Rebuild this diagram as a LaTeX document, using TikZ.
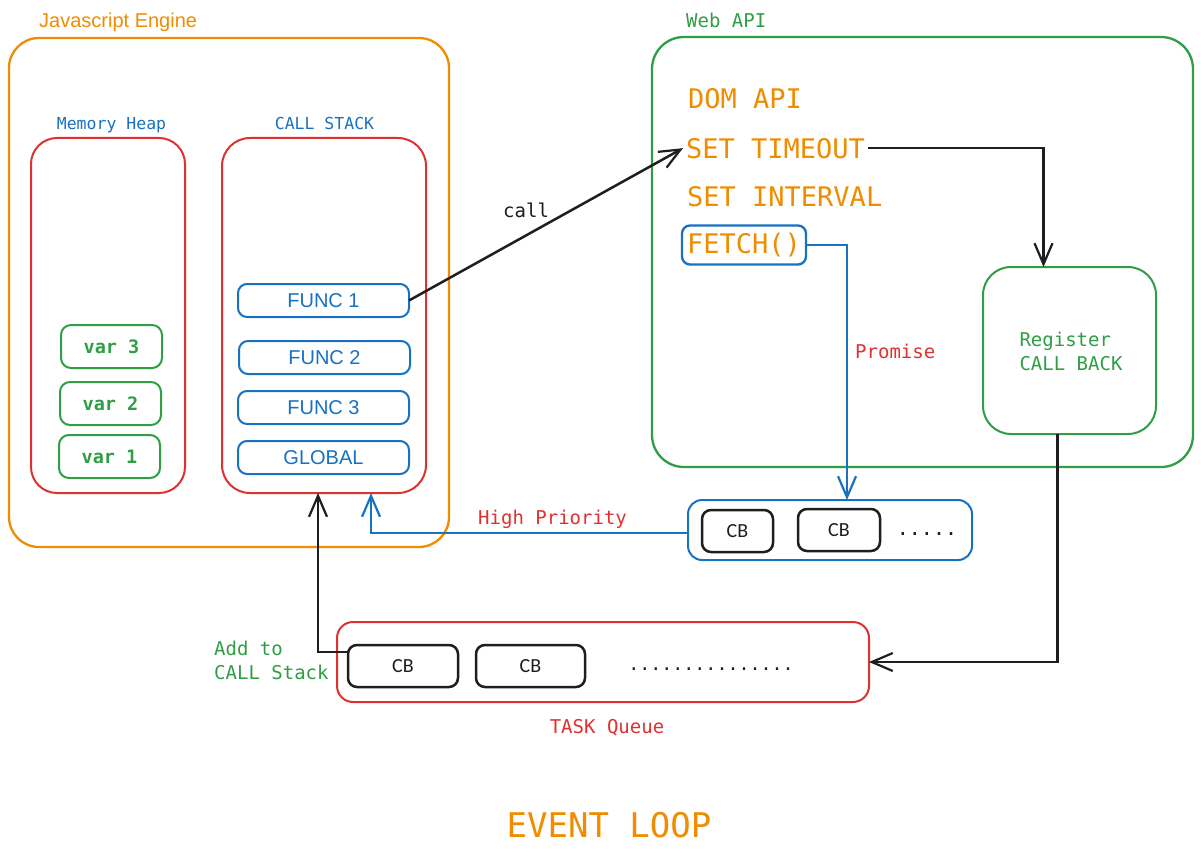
\documentclass[tikz,border=0pt]{standalone}
\usepackage{fontspec}
\setmainfont{Liberation Sans}
\newfontfamily\monof{DejaVu Sans Mono}
\newfontfamily\cbfont{Carlito}
\usetikzlibrary{arrows.meta,calc}
\definecolor{xorange}{HTML}{F08C00}
\definecolor{xred}{HTML}{E03131}
\definecolor{xblue}{HTML}{1971C2}
\definecolor{xgreen}{HTML}{2F9E44}
\definecolor{xblack}{HTML}{1E1E1E}
\begin{document}
\begin{tikzpicture}[x=1pt,y=-1pt,
  box/.style={draw, line width=2pt, rounded corners=#1, anchor=north west, inner sep=0pt, outer sep=0pt},
  arr/.style={line width=2.5pt, -{Straight Barb[length=21pt,width=18pt,line width=2.2pt]}},
  lbl/.style={inner sep=0pt, anchor=base west, font=\monof\fontsize{19}{24}\selectfont},
  web/.style={inner sep=0pt, anchor=base west, text=xorange, font=\monof\fontsize{27}{32}\selectfont},
  func/.style={box=9pt, draw=xblue, text=xblue, minimum width=171pt, minimum height=33pt, font=\fontsize{20}{24}\selectfont},
  varbox/.style={box=10pt, draw=xgreen, text=xgreen, minimum width=101pt, minimum height=43pt, font=\monof\bfseries\fontsize{18.5}{22}\selectfont},
  cbbox/.style={box=9pt, draw=xblack, line width=2.5pt, text=xblack, minimum height=42pt, font=\cbfont\fontsize{20}{24}\selectfont},
]
\useasboundingbox (0,0) rectangle (1202,856);
\fill[white] (0,0) rectangle (1202,856);

% Javascript engine
\node[box=30pt, draw=xorange, line width=2.3pt, minimum width=440pt, minimum height=509pt] (js) at (9,38) {};
\node[inner sep=0pt, anchor=base west, text=xorange, font=\fontsize{20}{24}\selectfont] (jslbl) at (39,28) {Javascript Engine};

% Memory heap
\node[inner sep=0pt, anchor=base, text=xblue, font=\monof\fontsize{16.5}{20}\selectfont] (heaplbl) at (111.5,130) {Memory Heap};
\node[box=26pt, draw=xred, minimum width=154pt, minimum height=355pt] (heap) at (31,138) {};
\node[varbox] (v3) at (61,325) {var 3};
\node[varbox] (v2) at (60,382) {var 2};
\node[varbox] (v1) at (59,435) {var 1};

% Call stack
\node[inner sep=0pt, anchor=base, text=xblue, font=\monof\fontsize{16.5}{20}\selectfont] (cslbl) at (324.5,130) {CALL STACK};
\node[box=28pt, draw=xred, minimum width=204pt, minimum height=355pt] (cs) at (222,138) {};
\node[func] (f1) at (238,284) {FUNC 1};
\node[func] (f2) at (239,341) {FUNC 2};
\node[func] (f3) at (238,391) {FUNC 3};
\node[func] (glob) at (238,441) {GLOBAL};

% Web API
\node[box=32pt, draw=xgreen, line width=2.3pt, minimum width=541pt, minimum height=430pt] (webapi) at (652,37) {};
\node[lbl, text=xgreen] (weblbl) at (686,28) {Web API};
\node[web] (dom) at (688,109) {DOM API};
\node[web, inner sep=3pt] (st) at (683,158) {SET TIMEOUT};
\node[web] (si) at (687,206) {SET INTERVAL};
\node[draw=xblue, line width=2.3pt, rounded corners=8pt, text=xorange, inner sep=4pt, minimum width=124pt, minimum height=39pt, font=\monof\fontsize{27}{32}\selectfont] (fetch) at (744,245) {FETCH()};
\node[box=28pt, draw=xgreen, minimum width=173pt, minimum height=167pt] (reg) at (983,267) {};
\node[align=left, inner sep=0pt, text=xgreen, font=\monof\fontsize{19}{24}\selectfont] (regtxt) at (1071,351) {Register\\CALL BACK};

% Microtask queue
\node[box=14pt, draw=xblue, minimum width=284pt, minimum height=60pt] (micro) at (688,500) {};
\node[cbbox, minimum width=71pt] (mcb1) at (702,510) {CB};
\node[cbbox, minimum width=82pt] (mcb2) at (798,509) {CB};
\node[inner sep=0pt, anchor=base, text=xblack, font=\monof\fontsize{20}{24}\selectfont] (mdots) at (927,535) {.....};

% Task queue
\node[box=16pt, draw=xred, minimum width=532pt, minimum height=80pt] (tq) at (337,622) {};
\node[cbbox, minimum width=110pt] (tcb1) at (348,645) {CB};
\node[cbbox, minimum width=109pt] (tcb2) at (476,645) {CB};
\node[inner sep=0pt, anchor=base, text=xblack, font=\monof\fontsize{18.3}{22}\selectfont] (tdots) at (711,670) {...............};
\node[inner sep=0pt, anchor=base, text=xred, font=\monof\fontsize{19}{24}\selectfont] (tqlbl) at (607,733) {TASK Queue};

% Connectors
\draw[arr, xblack] (f1.east) -- (st.west);
\node[lbl, text=xblack] (calllbl) at (503,217) {call};

\draw[arr, xblack] (st.east) -| ([xshift=-26pt]reg.north);
\draw[arr, xblue] (fetch.east) -| ([xshift=17pt]micro.north);
\node[lbl, text=xred] (promlbl) at (855,358) {Promise};

\draw[arr, xblue] ([yshift=-3pt]micro.west) -| ([xshift=47pt]cs.south);
\node[lbl, text=xred] (hplbl) at (478,524) {High Priority};

\draw[arr, xblack] ([xshift=-12pt]reg.south) |- (tq.east);

\draw[arr, xblack] ([yshift=14pt]tcb1.west) -| ([xshift=-6pt]cs.south);
\node[lbl, text=xgreen] (add1) at (214,655) {Add to};
\node[lbl, text=xgreen] (add2) at (214,679) {CALL Stack};

% Title
\node[inner sep=0pt, anchor=base, text=xorange, font=\monof\fontsize{34}{40}\selectfont] (title) at (609,837) {EVENT LOOP};
\end{tikzpicture}
\end{document}
